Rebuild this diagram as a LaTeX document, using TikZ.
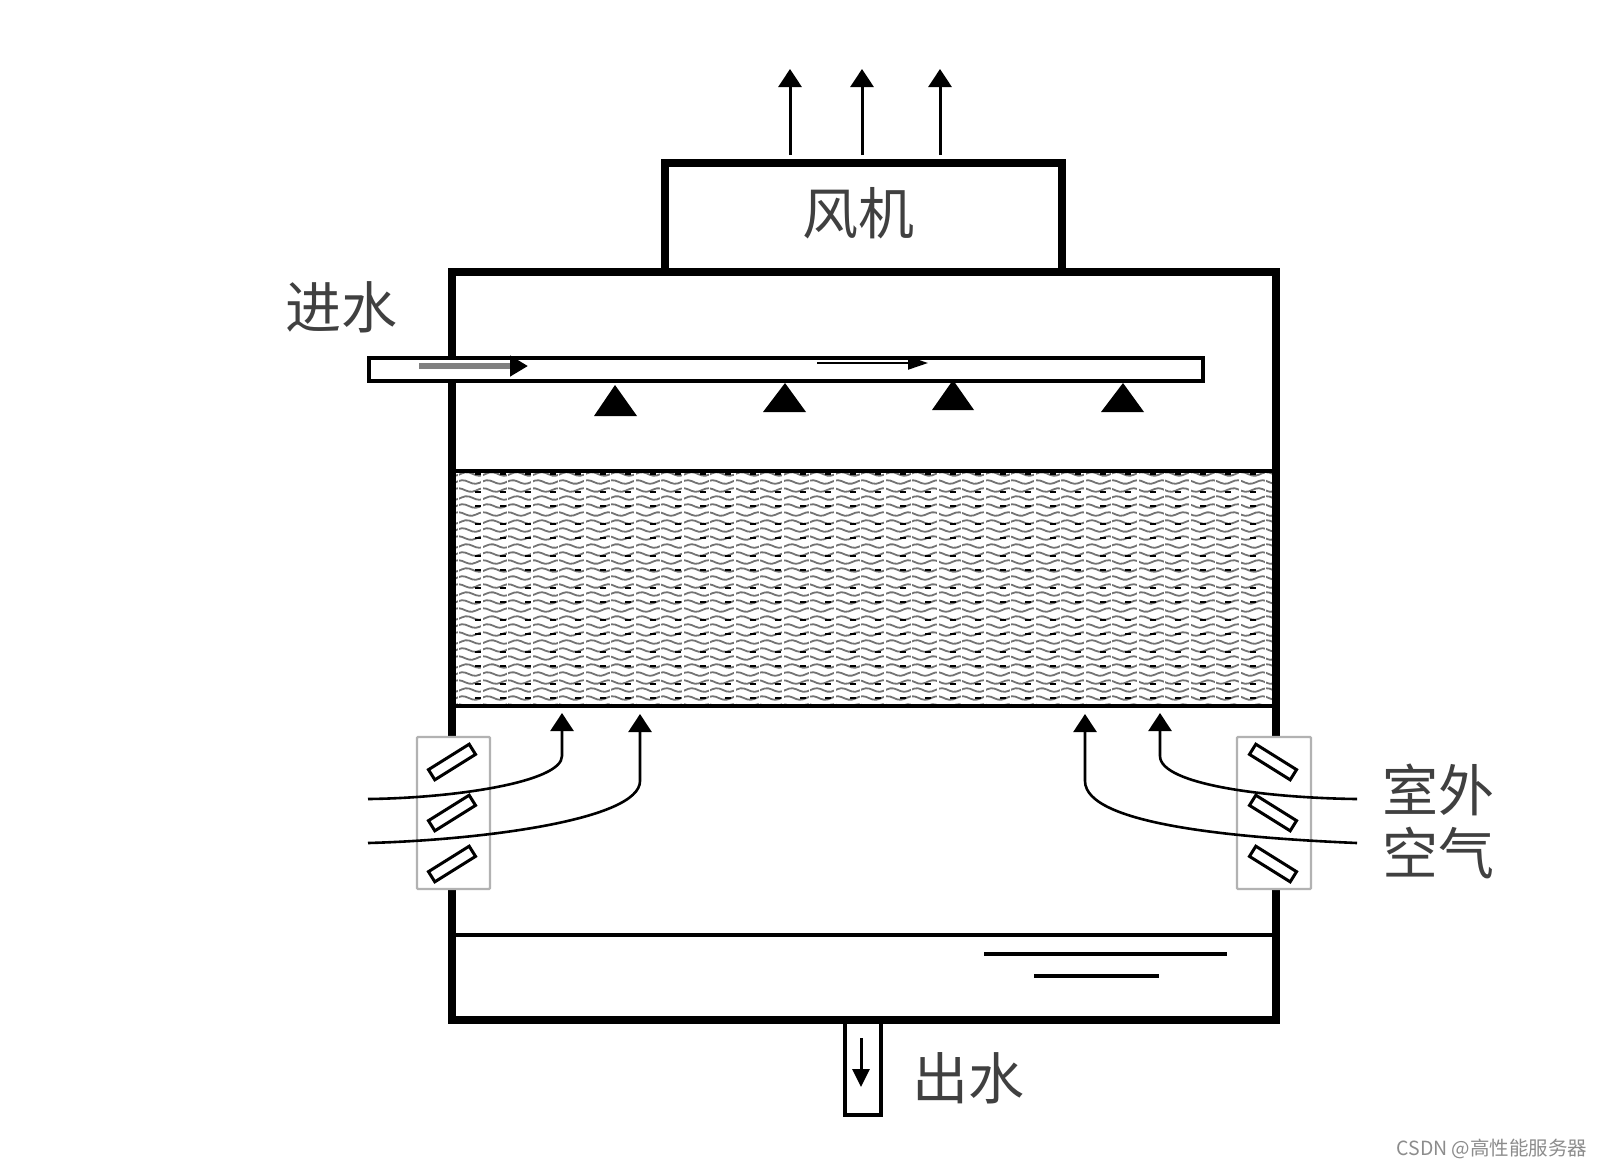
\documentclass[tikz,border=0pt]{standalone}
\usepackage{fontspec}
\setmainfont{Noto Sans CJK SC}
\usetikzlibrary{arrows.meta}
\definecolor{labelgray}{HTML}{404040}
\tikzset{
  wall/.style={line width=7.5pt,line join=miter},
  thinwall/.style={line width=4pt},
  bigtip/.style={-{Triangle[length=18pt,width=23pt]}},
  airflow/.style={line width=2.6pt,bigtip},
  exhaust/.style={line width=3pt,bigtip},
  slat/.style={draw,line width=3pt,fill=white,rotate=#1,minimum width=48pt,minimum height=12pt,inner sep=0pt},
  louvre/.style={draw=black!30,line width=2.4pt,fill=white,rounded corners=1pt},
  nozzle/.style={fill=black,line join=round},
  caption/.style={text=labelgray,font=\fontsize{56}{60}\selectfont,inner sep=0pt},
  packwave/.style={draw=black!55,line width=1.8pt},
  packdot/.style={draw=black,line width=2.6pt,dash pattern=on 6pt off 19pt}
}
\begin{document}
\begin{tikzpicture}[x=1pt,y=-1pt]
  \useasboundingbox (0,0) rectangle (1602,1168);
  % fill packing
  \begin{scope}
    \clip (452,472) rectangle (1276,706);
    \foreach \r in {0,...,29}{
      \pgfmathsetmacro{\rowy}{474+8*\r}
      \pgfmathsetmacro{\phase}{60*mod(\r,3)}
      \draw[packwave] plot[variable=\t,domain=0:832,samples=240] ({448+\t},{\rowy+1.8*sin(14.4*\t+\phase)});
    }
    \foreach \r in {0,2,...,28}{
      \draw[packdot] (450,{474+8*\r+mod(\r,4)}) -- (1280,{474+8*\r+mod(\r,4)});
    }
    \foreach \x in {482,532,585,635,683,735,783,835,885,938,985,1035,1085,1138,1190,1240}{
      \draw[white,line width=2.2pt] (\x,472) -- (\x,706);
    }
    \foreach \x in {458,507,558,610,660,709,759,809,860,911,961,1010,1060,1111,1164,1215,1265}{
      \draw[white,line width=1pt] (\x,472) -- (\x,706);
    }
  \end{scope}
  \draw[line width=3.5pt] (452,471) -- (1276,471);
  \draw[line width=4.5pt] (452,706) -- (1276,706);
  \draw[line width=4pt] (452,935) -- (1276,935);
  % tower and fan
  \draw[wall] (452,272) rectangle (1276,1020);
  \draw[wall] (665,272) -- (665,163) -- (1062,163) -- (1062,272);
  \node[caption] (fan) at (858,213) {风机};
  % exhaust
  \coordinate (fanA) at (790,155);
  \coordinate (fanB) at (862,155);
  \coordinate (fanC) at (940,155);
  \coordinate (outA) at (790,69);
  \coordinate (outB) at (862,69);
  \coordinate (outC) at (940,69);
  \draw[exhaust] (fanA) -- (outA);
  \draw[exhaust] (fanB) -- (outB);
  \draw[exhaust] (fanC) -- (outC);
  % spray pipe
  \draw[thinwall,fill=white] (369,358) rectangle (1203,381);
  \node[caption] (inlet) at (341,307) {进水};
  \coordinate (pipeA) at (419,366);
  \coordinate (pipeB) at (528,366);
  \coordinate (pipeC) at (817,363);
  \coordinate (pipeD) at (928,363);
  \draw[line width=6pt,draw=black!50,-{Triangle[length=18pt,width=20pt,color=black,fill=black]}] (pipeA) -- (pipeB);
  \draw[line width=2pt,-{Triangle[length=20pt,width=13pt]}] (pipeC) -- (pipeD);
  \fill[nozzle] (615,385) -- (637,416) -- (594,416) -- cycle;
  \fill[nozzle] (785,383) -- (806,412) -- (763,412) -- cycle;
  \fill[nozzle] (953,380) -- (974,410) -- (932,410) -- cycle;
  \fill[nozzle] (1123,383) -- (1144,412) -- (1101,412) -- cycle;
  % louvres
  \draw[louvre] (417,737) rectangle (490,889);
  \draw[louvre] (1237,737) rectangle (1311,889);
  \foreach \n/\y in {1/762,2/813,3/864}{
    \node[slat=32] (slatL\n) at (452,\y) {};
    \node[slat=-32] (slatR\n) at (1273,\y) {};
  }
  % outdoor air
  \coordinate (airLA) at (368,799);
  \coordinate (airLB) at (368,843);
  \coordinate (airRA) at (1357,799);
  \coordinate (airRB) at (1357,843);
  \coordinate (tipLA) at (562,713);
  \coordinate (tipLB) at (640,714);
  \coordinate (tipRA) at (1160,713);
  \coordinate (tipRB) at (1085,714);
  \draw[airflow] (airLA) .. controls (455,798) and (562,782) .. (562,756) -- (tipLA);
  \draw[airflow] (airLB) .. controls (480,840) and (640,820) .. (640,781) -- (tipLB);
  \draw[airflow] (airRA) .. controls (1270,798) and (1160,785) .. (1160,756) -- (tipRA);
  \draw[airflow] (airRB) .. controls (1240,838) and (1085,825) .. (1085,781) -- (tipRB);
  \node[caption] (outdoorA) at (1438,790) {室外};
  \node[caption] (outdoorB) at (1438,853) {空气};
  % basin
  \coordinate (lvlA) at (984,954);
  \coordinate (lvlB) at (1227,954);
  \coordinate (lvlC) at (1034,976);
  \coordinate (lvlD) at (1159,976);
  \draw[line width=3.5pt] (lvlA) -- (lvlB);
  \draw[line width=3.5pt] (lvlC) -- (lvlD);
  \draw[line width=4pt] (845,1024) -- (845,1115) -- (881,1115) -- (881,1024);
  \coordinate (drainA) at (861,1038);
  \coordinate (drainB) at (861,1087);
  \draw[line width=3pt,-{Triangle[length=18pt,width=17pt]}] (drainA) -- (drainB);
  \node[caption] (outlet) at (968,1078) {出水};
  \node[text=black!45,font=\fontsize{19.5}{22}\selectfont,inner sep=0pt] (mark) at (1492,1149) {CSDN @高性能服务器};
\end{tikzpicture}
\end{document}
